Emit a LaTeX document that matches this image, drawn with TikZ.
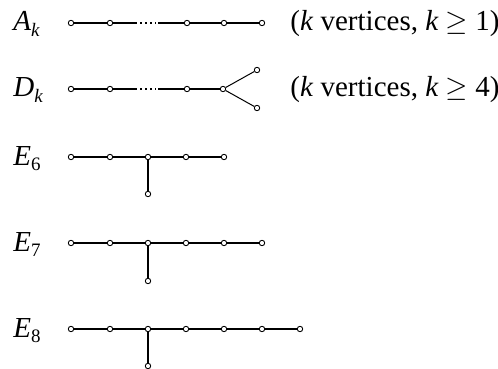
\documentclass[tikz,border=0pt]{standalone}
\usepackage{fontspec}
\setmainfont{Liberation Serif}
\tikzset{
  vertex/.style={circle,draw,fill=white,inner sep=0pt,minimum size=2.7pt,line width=0.45pt},
  bond/.style={line width=0.7pt},
  thickbond/.style={line width=0.95pt},
  forkbond/.style={line width=0.5pt},
  label/.style={anchor=base west,font=\fontsize{14.5}{16}\selectfont,inner sep=0pt},
}
\newcommand{\subk}{\raisebox{-0.18em}{\fontsize{9.5}{10}\selectfont\textit{k}}}
\newcommand{\subn}[1]{\raisebox{-0.18em}{\fontsize{9.5}{10}\selectfont #1}}
\begin{document}
\begin{tikzpicture}[x=0.5pt,y=-0.5pt]
			\useasboundingbox (0,0) rectangle (498,369);
			% A_k chain
			\node[label] (AkName) at (13,31) {\textit{A}\subk};
			\node[vertex] (A1) at (71,23) {};
			\node[vertex] (A2) at (110,23) {};
			\coordinate (ADotsL) at (137,23);
			\coordinate (ADotsR) at (158,23);
			\node[vertex] (A3) at (187,23) {};
			\node[vertex] (A4) at (224,23) {};
			\node[vertex] (A5) at (262,23) {};
			\draw[bond] (A1) to (A2);
			\draw[bond] (A2) to (ADotsL);
			\draw[bond,dash pattern=on 1.1pt off 1.4pt] ([xshift=1.6pt]ADotsL) to ([xshift=-1.2pt]ADotsR);
			\draw[bond] (ADotsR) to (A3);
			\draw[bond] (A3) to (A4);
			\draw[bond] (A4) to (A5);
			\node[label] (AkNote) at (290,31) {(\textit{k} vertices, \textit{k} $\geq$ 1)};
			
			% D_k chain
			\node[label] (DkName) at (13,97) {\textit{D}\subk};
			\node[vertex] (D1) at (71,89) {};
			\node[vertex] (D2) at (110,89) {};
			\coordinate (DDotsL) at (137,89);
			\coordinate (DDotsR) at (158,89);
			\node[vertex] (D3) at (187,89) {};
			\node[vertex] (D4) at (223,89) {};
			\node[vertex] (D5) at (257,70) {};
			\node[vertex] (D6) at (257,108) {};
			\draw[bond] (D1) to (D2);
			\draw[bond] (D2) to (DDotsL);
			\draw[bond,dash pattern=on 1.1pt off 1.4pt] ([xshift=1.6pt]DDotsL) to ([xshift=-1.2pt]DDotsR);
			\draw[bond] (DDotsR) to (D3);
			\draw[bond] (D3) to (D4);
			\draw[forkbond] (D4) to (D5);
			\draw[forkbond] (D4) to (D6);
			\node[label] (DkNote) at (290,97) {(\textit{k} vertices, \textit{k} $\geq$ 4)};
			
			% E_6
			\node[label] (E6Name) at (13,165) {\textit{E}\subn{6}};
			\node[vertex] (E61) at (71,157) {};
			\node[vertex] (E62) at (110,157) {};
			\node[vertex] (E63) at (148,157) {};
			\node[vertex] (E64) at (186,157) {};
			\node[vertex] (E65) at (224,157) {};
			\node[vertex] (E66) at (148,194) {};
			\draw[thickbond] (E61) to (E62);
			\draw[thickbond] (E62) to (E63);
			\draw[thickbond] (E63) to (E64);
			\draw[thickbond] (E64) to (E65);
			\draw[bond] (E63) to (E66);
			
			% E_7
			\node[label] (E7Name) at (13,251) {\textit{E}\subn{7}};
			\node[vertex] (E71) at (71,243) {};
			\node[vertex] (E72) at (110,243) {};
			\node[vertex] (E73) at (148,243) {};
			\node[vertex] (E74) at (186,243) {};
			\node[vertex] (E75) at (224,243) {};
			\node[vertex] (E76) at (262,243) {};
			\node[vertex] (E77) at (148,281) {};
			\draw[bond] (E71) to (E72);
			\draw[bond] (E72) to (E73);
			\draw[bond] (E73) to (E74);
			\draw[bond] (E74) to (E75);
			\draw[bond] (E75) to (E76);
			\draw[bond] (E73) to (E77);
			
			% E_8
			\node[label] (E8Name) at (13,337) {\textit{E}\subn{8}};
			\node[vertex] (E81) at (71,329) {};
			\node[vertex] (E82) at (110,329) {};
			\node[vertex] (E83) at (148,329) {};
			\node[vertex] (E84) at (186,329) {};
			\node[vertex] (E85) at (224,329) {};
			\node[vertex] (E86) at (262,329) {};
			\node[vertex] (E87) at (300,329) {};
			\node[vertex] (E88) at (148,366) {};
			\draw[bond] (E81) to (E82);
			\draw[bond] (E82) to (E83);
			\draw[bond] (E83) to (E84);
			\draw[bond] (E84) to (E85);
			\draw[bond] (E85) to (E86);
			\draw[bond] (E86) to (E87);
			\draw[bond] (E83) to (E88);
			
			\end{tikzpicture}
\end{document}
